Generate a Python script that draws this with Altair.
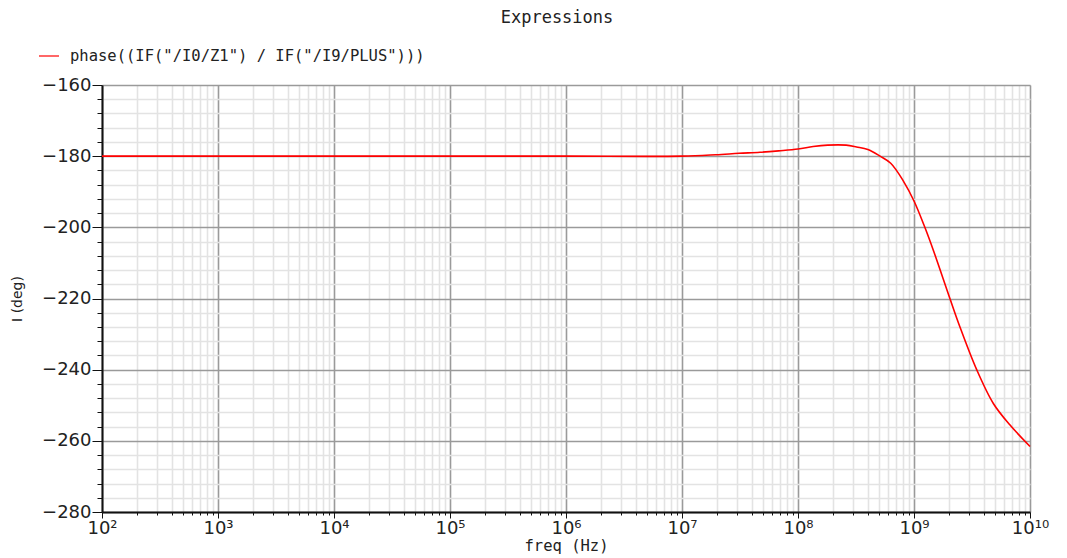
import altair as alt
import pandas as pd

# --- data ---
freq = [1e2, 1e3, 1e4, 1e5, 1e6, 1e7, 1.95e7, 3.1e7, 4.7e7, 6.8e7, 1e8, 1.35e8,
        1.8e8, 2.6e8, 3.2e8, 4e8, 5.1e8, 6.3e8, 8.1e8, 1e9, 1.24e9, 1.47e9,
        2.04e9, 2.49e9, 3.47e9, 4.83e9, 6.7e9, 1e10]
phase = [-180, -180, -180, -180, -180, -180, -179.6, -179.2, -178.9, -178.5, -178.0, -177.3,
         -176.9, -176.9, -177.4, -178.1, -180.0, -182.0, -187.0, -192.6, -200.0, -206.5,
         -220.0, -228.0, -240.0, -249.5, -255.5, -261.6]
series_name = 'phase((IF("/I0/Z1") / IF("/I9/PLUS")))'

x_ticks = [m * 10 ** k for k in range(2, 10) for m in range(1, 10)] + [10 ** 10]
y_ticks = list(range(-280, -159, 4))

df = pd.DataFrame({"freq": freq, "phase": phase, "series": series_name})

FONT = "DejaVu Sans"
MONO = "DejaVu Sans Mono"
lg = "log(datum.value)/LN10"
x_major = f"abs({lg} - round({lg})) < 1e-6"
y_major = "datum.value % 20 === 0"
sup = "['','','²','³','⁴','⁵','⁶','⁷','⁸','⁹','¹⁰']"

x_axis = alt.Axis(
    values=x_ticks,
    title="freq (Hz)",
    titleFont=MONO, titleFontSize=15.5, titleFontWeight="normal", titleColor="#222",
    titlePadding=1,
    labelExpr=f"{x_major} ? '10' + {sup}[round({lg})] : ''",
    labelFont=FONT, labelFontSize=18, labelColor="#222", labelPadding=1,
    labelFlush=False, labelOverlap=False,
    grid=True,
    gridColor=alt.condition(x_major, alt.value("#9a9a9a"), alt.value("#e3e3e3")),
    gridWidth=1.6,
    tickColor="#111",
    tickSize=alt.condition(x_major, alt.value(6), alt.value(3)),
    domainColor="#111", domainWidth=2,
)

y_axis = alt.Axis(
    values=y_ticks,
    title="I (deg)",
    titleFont=FONT, titleFontSize=14, titleFontWeight="normal", titleColor="#222",
    titlePadding=17,
    labelExpr=f"{y_major} ? format(datum.value, 'd') : ''",
    labelFont=FONT, labelFontSize=18, labelColor="#222", labelPadding=1,
    labelOverlap=False,
    grid=True,
    gridColor=alt.condition(y_major, alt.value("#9a9a9a"), alt.value("#e3e3e3")),
    gridWidth=1.6,
    tickColor="#111",
    tickSize=alt.condition(y_major, alt.value(10), alt.value(5)),
    domainColor="#111", domainWidth=2,
)

chart = alt.Chart(df).mark_line(strokeWidth=1.6, interpolate="catmull-rom").encode(
    x=alt.X("freq:Q", scale=alt.Scale(type="log", domain=[1e2, 1e10], nice=False), axis=x_axis),
    y=alt.Y("phase:Q", scale=alt.Scale(domain=[-280, -160], nice=False, zero=False), axis=y_axis),
    color=alt.Color(
        "series:N",
        scale=alt.Scale(domain=[series_name], range=["#ff0000"]),
        legend=alt.Legend(
            title=None, orient="none", legendX=-64, legendY=-40,
            symbolType="stroke", symbolSize=400, symbolStrokeWidth=1.2,
            labelFont=MONO, labelFontSize=15.5, labelColor="#222", labelOffset=10,
            labelLimit=0, padding=0,
        ),
    ),
).properties(
    width=928,
    height=427,
    title=alt.TitleParams(
        "Expressions", font=MONO, fontSize=17, fontWeight="normal", color="#222",
        frame="group", anchor="middle", dx=-9, offset=18,
    ),
    padding={"left": 102, "top": 85, "right": 37, "bottom": 46},
    autosize=alt.AutoSizeParams(type="none"),
).configure_view(
    stroke="#222", strokeWidth=2
).configure(background="white")

chart.save("out.html", embed_options={"renderer": "svg", "actions": False})
